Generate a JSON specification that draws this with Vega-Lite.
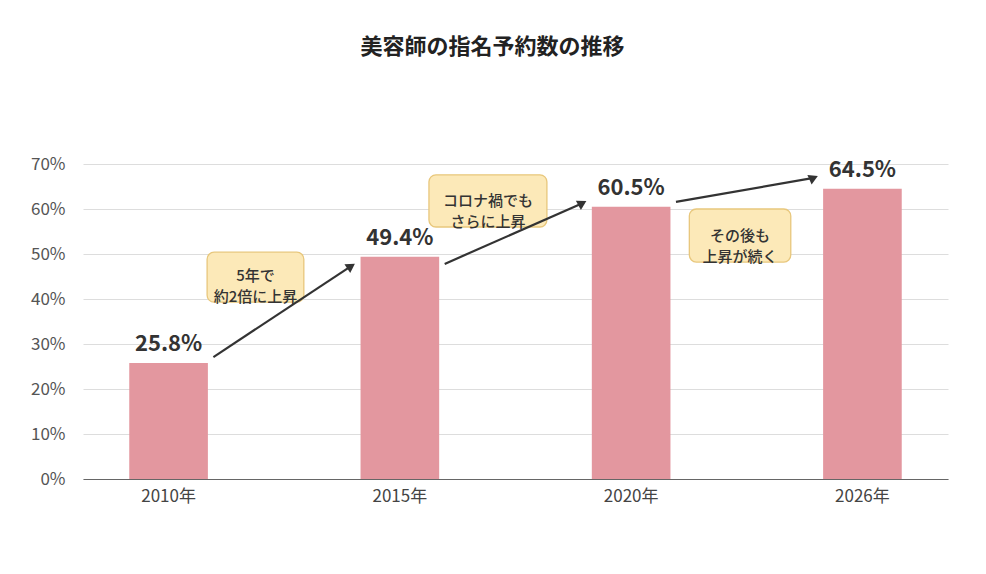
{
  "$schema": "https://vega.github.io/schema/vega-lite/v6.json",
  "autosize": "none",
  "padding": {"left": 83, "top": 164, "right": 38, "bottom": 95},
  "width": 865,
  "height": 315,
  "background": "white",
  "title": {
    "text": "美容師の指名予約数の推移",
    "frame": "group",
    "anchor": "middle",
    "dx": -23,
    "offset": 96,
    "fontSize": 22,
    "fontWeight": "bold",
    "color": "#222"
  },
  "datasets": {
    "rates": [
      {"year": "2010年", "rate": 0.258},
      {"year": "2015年", "rate": 0.494},
      {"year": "2020年", "rate": 0.605},
      {"year": "2026年", "rate": 0.645}
    ],
    "arrows": [
      {"from": "2010年", "to": "2015年", "y1": 0.271, "y2": 0.473},
      {"from": "2015年", "to": "2020年", "y1": 0.478, "y2": 0.613},
      {"from": "2020年", "to": "2026年", "y1": 0.616, "y2": 0.669}
    ],
    "notes": [
      {"from": "2010年", "note": "5年で\n約2倍に上昇", "top": 0.504, "bottom": 0.393, "mid": 0.451},
      {"from": "2015年", "note": "コロナ禍でも\nさらに上昇", "top": 0.676, "bottom": 0.560, "mid": 0.618},
      {"from": "2020年", "note": "その後も\n上昇が続く", "top": 0.600, "bottom": 0.482, "mid": 0.541}
    ]
  },
  "layer": [
    {
      "data": {"name": "rates"},
      "mark": {"type": "bar", "color": "#e3979f"},
      "encoding": {
        "x": {
          "field": "year",
          "type": "nominal",
          "title": null,
          "scale": {
            "domain": ["2010年", "2015年", "2020年", "2026年"],
            "paddingInner": 0.66,
            "paddingOuter": 0.2
          },
          "axis": {
            "labelAngle": 0,
            "ticks": false,
            "labelPadding": 9,
            "labelFontSize": 17,
            "labelColor": "#444",
            "domainColor": "#666",
            "domainWidth": 1.2
          }
        },
        "y": {
          "field": "rate",
          "type": "quantitative",
          "title": null,
          "scale": {"domain": [0, 0.7]},
          "axis": {
            "values": [0, 0.1, 0.2, 0.3, 0.4, 0.5, 0.6, 0.7],
            "format": ".0%",
            "domain": false,
            "ticks": false,
            "labelPadding": 18,
            "labelFontSize": 17,
            "labelColor": "#555",
            "gridColor": "#dddddd"
          }
        }
      }
    },
    {
      "data": {"name": "rates"},
      "mark": {"type": "text", "baseline": "bottom", "dy": -7, "fontSize": 22, "fontWeight": "bold", "color": "#333"},
      "encoding": {
        "x": {"field": "year", "type": "nominal", "title": null},
        "y": {"field": "rate", "type": "quantitative", "title": null},
        "text": {"field": "rate", "type": "quantitative", "format": ".1%"}
      }
    },
    {
      "data": {"name": "notes"},
      "transform": [{"filter": "datum.from === '2010年'"}],
      "layer": [
        {
          "mark": {"type": "rect", "fill": "#fce9b8", "stroke": "#e8c77c", "strokeWidth": 1.3, "cornerRadius": 7},
          "encoding": {
            "x": {"field": "from", "type": "nominal", "bandPosition": 0.99, "title": null},
            "x2": {"field": "from", "bandPosition": 2.22},
            "y": {"field": "top", "type": "quantitative", "title": null},
            "y2": {"field": "bottom"}
          }
        },
        {
          "mark": {"type": "text", "lineBreak": "\n", "lineHeight": 21, "fontSize": 15, "fontWeight": 500, "color": "#333", "baseline": "middle"},
          "encoding": {
            "x": {"field": "from", "type": "nominal", "bandPosition": 1.605, "title": null},
            "y": {"field": "mid", "type": "quantitative", "title": null},
            "text": {"field": "note", "type": "nominal"}
          }
        }
      ]
    },
    {
      "data": {"name": "notes"},
      "transform": [{"filter": "datum.from === '2015年'"}],
      "layer": [
        {
          "mark": {"type": "rect", "fill": "#fce9b8", "stroke": "#e8c77c", "strokeWidth": 1.3, "cornerRadius": 7},
          "encoding": {
            "x": {"field": "from", "type": "nominal", "bandPosition": 0.87, "title": null},
            "x2": {"field": "from", "bandPosition": 2.37},
            "y": {"field": "top", "type": "quantitative", "title": null},
            "y2": {"field": "bottom"}
          }
        },
        {
          "mark": {"type": "text", "lineBreak": "\n", "lineHeight": 21, "fontSize": 15, "fontWeight": 500, "color": "#333", "baseline": "middle"},
          "encoding": {
            "x": {"field": "from", "type": "nominal", "bandPosition": 1.62, "title": null},
            "y": {"field": "mid", "type": "quantitative", "title": null},
            "text": {"field": "note", "type": "nominal"}
          }
        }
      ]
    },
    {
      "data": {"name": "notes"},
      "transform": [{"filter": "datum.from === '2020年'"}],
      "layer": [
        {
          "mark": {"type": "rect", "fill": "#fce9b8", "stroke": "#e8c77c", "strokeWidth": 1.3, "cornerRadius": 7},
          "encoding": {
            "x": {"field": "from", "type": "nominal", "bandPosition": 1.24, "title": null},
            "x2": {"field": "from", "bandPosition": 2.53},
            "y": {"field": "top", "type": "quantitative", "title": null},
            "y2": {"field": "bottom"}
          }
        },
        {
          "mark": {"type": "text", "lineBreak": "\n", "lineHeight": 21, "fontSize": 15, "fontWeight": 500, "color": "#333", "baseline": "middle"},
          "encoding": {
            "x": {"field": "from", "type": "nominal", "bandPosition": 1.885, "title": null},
            "y": {"field": "mid", "type": "quantitative", "title": null},
            "text": {"field": "note", "type": "nominal"}
          }
        }
      ]
    },
    {
      "data": {"name": "arrows"},
      "mark": {"type": "rule", "color": "#333", "strokeWidth": 2.2},
      "encoding": {
        "x": {"field": "from", "type": "nominal", "bandPosition": 1.07, "title": null},
        "x2": {"field": "to", "bandPosition": -0.12},
        "y": {"field": "y1", "type": "quantitative", "title": null},
        "y2": {"field": "y2"}
      }
    },
    {
      "data": {"name": "arrows"},
      "mark": {"type": "point", "shape": "triangle-right", "filled": true, "size": 110, "opacity": 1, "color": "#333"},
      "encoding": {
        "x": {"field": "to", "type": "nominal", "bandPosition": -0.12, "title": null},
        "y": {"field": "y2", "type": "quantitative", "title": null},
        "angle": {
          "field": "from",
          "type": "nominal",
          "scale": {"domain": ["2010年", "2015年", "2020年"], "range": [326.5, 336.2, 350.2]}
        }
      }
    }
  ],
  "config": {
    "font": "Noto Sans CJK JP",
    "view": {"stroke": null}
  }
}
